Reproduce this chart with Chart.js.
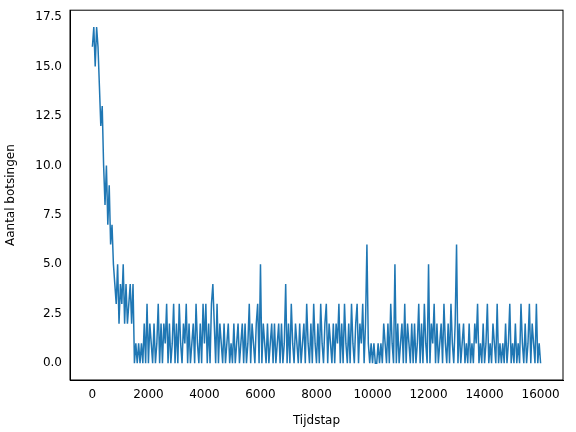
<!DOCTYPE html>
<html>
<head>
<script src="https://cdn.jsdelivr.net/npm/chart.js@4"></script>
<style>body{margin:0;background:#fff}#wrap{width:576px;height:432px}</style>
</head>
<body>
<div id="wrap"><canvas id="c"></canvas></div>
<script>
// collisions per time step, one sample every 50 steps
const stepSize = 50;
const collisions = [
  16,17,15,17,16,14,12,13,10,8,
  10,7,9,6,7,5,4,3,5,2,
  4,3,5,2,4,2,3,4,2,4,
  0,1,0,1,0,1,0,2,0,3,
  0,2,1,0,2,0,1,3,0,2,
  0,2,1,3,0,2,0,1,3,0,
  2,0,3,1,0,2,1,3,0,2,
  0,1,2,0,3,1,0,2,0,3,
  1,3,0,2,0,3,4,2,0,3,
  0,2,1,0,2,0,1,2,0,1,
  0,2,0,1,2,0,1,2,0,2,
  0,1,3,0,2,1,0,2,3,0,
  5,0,2,1,0,2,0,1,2,0,
  2,0,1,2,0,2,0,1,4,0,
  2,0,3,1,0,2,1,0,2,0,
  1,2,0,3,1,0,2,0,3,1,
  0,2,0,3,1,0,2,3,0,2,
  1,0,2,0,2,1,3,0,2,0,
  3,1,0,2,0,3,1,0,2,3,
  0,2,1,3,0,2,6,1,0,1,
  0,1,0,0,1,0,1,0,2,1,
  0,2,0,3,1,0,5,0,2,0,
  1,2,0,3,0,2,1,0,2,0,
  2,0,1,3,0,2,0,3,1,0,
  5,0,2,1,3,0,2,0,1,2,
  0,3,1,0,2,0,3,1,0,2,
  6,0,2,0,1,2,0,1,0,2,
  0,1,0,2,1,3,0,1,0,2,
  0,1,3,0,1,0,2,1,0,3,
  0,1,0,1,0,2,0,1,3,0,
  1,0,2,0,1,0,3,1,0,2,
  0,1,3,0,2,1,0,3,0,1,
  0
];
const points = collisions.map((v, i) => ({ x: i * stepSize, y: v }));

const frame = {
  id: 'frame',
  afterDraw(chart) {
    const { ctx, chartArea: a } = chart;
    ctx.save();
    ctx.strokeStyle = '#000';
    ctx.lineWidth = 1;
    ctx.strokeRect(a.left, a.top, a.right - a.left, a.bottom - a.top);
    ctx.restore();
  },
};

Chart.defaults.font.family = 'DejaVu Sans';
Chart.defaults.color = '#000';

new Chart(document.getElementById('c'), {
  type: 'line',
  data: {
    datasets: [{
      data: points,
      borderColor: '#1f77b4',
      borderWidth: 1.5,
      pointRadius: 0,
      tension: 0,
    }],
  },
  options: {
    animation: false,
    responsive: true,
    maintainAspectRatio: false,
    layout: { padding: { top: 5, right: 13 } },
    plugins: { legend: { display: false }, tooltip: { enabled: false } },
    scales: {
      x: {
        type: 'linear',
        min: -800,
        max: 16800,
        afterBuildTicks(s) { s.ticks = [0,2000,4000,6000,8000,10000,12000,14000,16000].map(v => ({ value: v })); },
        ticks: { font: { size: 12 }, maxRotation: 0, callback: v => String(v) },
        grid: { display: false, drawTicks: true, tickLength: 5, tickColor: '#000' },
        border: { color: '#000' },
        title: { display: true, text: 'Tijdstap', font: { size: 12 }, padding: { top: 2 } },
        afterFit(s) { s.height = 52; },
      },
      y: {
        min: -0.85,
        max: 17.85,
        afterBuildTicks(s) { s.ticks = [0,2.5,5,7.5,10,12.5,15,17.5].map(v => ({ value: v })); },
        ticks: { font: { size: 12 }, callback: v => v.toFixed(1) },
        grid: { display: false, drawTicks: true, tickLength: 5, tickColor: '#000' },
        border: { color: '#000' },
        title: { display: true, text: 'Aantal botsingen', font: { size: 12 }, padding: { bottom: 4 } },
        afterFit(s) { s.width = 70; },
      },
    },
  },
  plugins: [frame],
});
</script>
</body>
</html>
